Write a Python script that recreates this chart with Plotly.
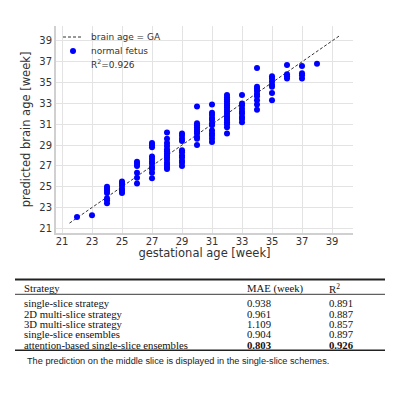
import plotly.graph_objects as go

# ---------------- data ----------------
weeks = [22, 23, 24, 25, 26, 27, 28, 29, 30, 31, 32, 33, 34, 35, 36, 37, 38]
pred_w22 = [22.1]
pred_w23 = [22.25]
pred_w24 = [25.0, 24.8, 24.6, 24.4, 23.9, 23.7, 23.4]
pred_w25 = [25.5, 25.3, 25.1, 24.8, 24.6, 24.4]
pred_w26 = [27.4, 27.2, 27.0, 26.35, 25.85, 25.3]
pred_w27 = [29.2, 29.0, 28.8, 27.9, 27.65, 27.4, 27.2, 26.9, 26.7, 26.35, 25.8]
pred_w28 = [30.2, 29.6, 29.2, 28.9, 28.6, 28.4, 28.2, 28.0, 27.8, 27.6, 27.3, 27.1, 26.9, 26.7]
pred_w29 = [30.1, 29.9, 29.6, 29.4, 28.5, 28.3, 28.0, 27.8, 27.5, 27.3, 27.0]
pred_w30 = [32.7, 31.1, 30.9, 30.7, 30.5, 30.3, 30.1, 29.8, 29.6, 29.0]
pred_w31 = [32.9, 32.1, 31.9, 31.6, 31.4, 31.1, 30.9, 30.4, 30.1, 29.9, 29.6, 29.3]
pred_w32 = [33.8, 33.6, 33.4, 33.2, 33.0, 32.8, 32.6, 32.4, 32.2, 32.0, 31.8, 31.6, 31.4, 31.2, 31.0, 30.7, 30.1]
pred_w33 = [33.8, 33.0, 32.8, 32.5, 32.2, 32.0, 31.7, 31.5, 31.2]
pred_w34 = [36.4, 34.6, 34.4, 34.2, 33.9, 33.7, 33.3, 32.9, 32.4]
pred_w35 = [35.6, 35.4, 35.1, 34.8, 34.6, 34.0, 33.3]
pred_w36 = [36.7, 35.8, 35.6, 35.4]
pred_w37 = [36.6, 35.9, 35.7, 35.4]
pred_w38 = [36.8]
pred_by_week = [pred_w22, pred_w23, pred_w24, pred_w25, pred_w26, pred_w27, pred_w28,
                pred_w29, pred_w30, pred_w31, pred_w32, pred_w33, pred_w34, pred_w35,
                pred_w36, pred_w37, pred_w38]

identity_line = [21.5, 39.5]
tick_values = [21, 23, 25, 27, 29, 31, 33, 35, 37, 39]
r2_label = "R<sup>2</sup>=0.926"

table_header = ["Strategy", "MAE (week)", "R<sup>2</sup>"]
strategies = ["single-slice strategy", "2D multi-slice strategy", "3D multi-slice strategy",
              "single-slice ensembles", "attention-based single-slice ensembles"]
mae_values = ["0.938", "0.961", "1.109", "0.904", "0.803"]
r2_values = ["0.891", "0.887", "0.857", "0.897", "0.926"]
note_text = "The prediction on the middle slice is displayed in the single-slice schemes."

# ---------------- helpers (page pixel -> paper); page body has an 8px margin ----------------
OFF = 8
W, H = 400 - OFF, 396 - OFF
def X(px):
    return (px - OFF) / W
def Y(py):
    return 1 - (py - OFF) / H

ga_flat, pred_flat = [], []
for w, vals in zip(weeks, pred_by_week):
    for v in vals:
        ga_flat.append(w)
        pred_flat.append(v)

fig = go.Figure()
fig.add_trace(go.Scatter(x=identity_line, y=identity_line, mode="lines",
                         line=dict(color="#333333", width=1, dash="3px,2px"),
                         name="brain age = GA", showlegend=False, hoverinfo="skip"))
fig.add_trace(go.Scatter(x=ga_flat, y=pred_flat, mode="markers",
                         marker=dict(color="#0000ff", size=6, line=dict(width=0)),
                         name="normal fetus", showlegend=False))

axis_common = dict(range=[20.6, 40.4], tickvals=tick_values, showgrid=True,
                   gridcolor="#e3e3e3", gridwidth=1, zeroline=False,
                   showline=True, linecolor="#d0d0d0", linewidth=2, ticks="",
                   tickfont=dict(family="DejaVu Sans", size=10, color="#333333"))

fig.update_layout(
    width=W, height=H, margin=dict(l=0, r=0, t=0, b=0),
    paper_bgcolor="white", plot_bgcolor="white", showlegend=False,
    xaxis=dict(domain=[X(56), X(353)], **axis_common, ticklabelstandoff=-2,
               title=dict(text="gestational age [week]", standoff=1,
                          font=dict(family="DejaVu Sans", size=11.5, color="#333333"))),
    yaxis=dict(domain=[Y(232.5), Y(26.4)], **axis_common,
               title=dict(text="predicted brain age [week]", standoff=6,
                          font=dict(family="DejaVu Sans", size=11.5, color="#333333"))),
)

shapes = []
annotations = []

# legend (drawn manually)
leg_font = dict(family="DejaVu Sans", size=9, color="#333333")
shapes.append(dict(type="line", xref="paper", yref="paper", x0=X(63), x1=X(82), y0=Y(37), y1=Y(37),
                   line=dict(color="#333333", width=1, dash="3px,2px")))
shapes.append(dict(type="circle", xref="paper", yref="paper", x0=X(70), x1=X(76), y0=Y(54), y1=Y(48),
                   fillcolor="#0000ff", line=dict(width=0)))
for txt, py in zip(["brain age = GA", "normal fetus", r2_label], [37, 51, 64]):
    annotations.append(dict(text=txt, xref="paper", yref="paper", x=X(89), y=Y(py),
                            xanchor="left", yanchor="middle", showarrow=False, font=leg_font))

# table rules
shapes.append(dict(type="line", xref="paper", yref="paper", x0=X(15), x1=X(385), y0=Y(279.5), y1=Y(279.5),
                   line=dict(color="#222222", width=1.8)))
shapes.append(dict(type="line", xref="paper", yref="paper", x0=X(15), x1=X(385), y0=Y(294.3), y1=Y(294.3),
                   line=dict(color="#222222", width=0.9)))
shapes.append(dict(type="line", xref="paper", yref="paper", x0=X(15), x1=X(385), y0=Y(350.3), y1=Y(350.3),
                   line=dict(color="#222222", width=1.6)))

tab_font = dict(family="Liberation Serif, Times New Roman, serif", size=10.7, color="#111111")
col_x = [21.5, 245, 327]
for txt, cx in zip(table_header, col_x):
    annotations.append(dict(text=txt, xref="paper", yref="paper", x=X(cx), y=Y(288.3),
                            xanchor="left", yanchor="middle", showarrow=False, font=tab_font))
row_y = [303.3, 313.7, 324.0, 334.3, 344.7]
for i, (s, m, r) in enumerate(zip(strategies, mae_values, r2_values)):
    last = i == len(strategies) - 1
    for txt, cx, bold in [(s, col_x[0], False), (m, col_x[1], last), (r, col_x[2], last)]:
        annotations.append(dict(text=f"<b>{txt}</b>" if bold else txt, xref="paper", yref="paper",
                                x=X(cx), y=Y(row_y[i]), xanchor="left", yanchor="middle",
                                showarrow=False, font=tab_font))

annotations.append(dict(text=note_text, xref="paper", yref="paper", x=X(25), y=Y(360.7),
                        xanchor="left", yanchor="middle", showarrow=False,
                        font=dict(family="Liberation Sans", size=9.2, color="#222222")))

fig.update_layout(shapes=shapes, annotations=annotations)
fig.write_html("out.html")
